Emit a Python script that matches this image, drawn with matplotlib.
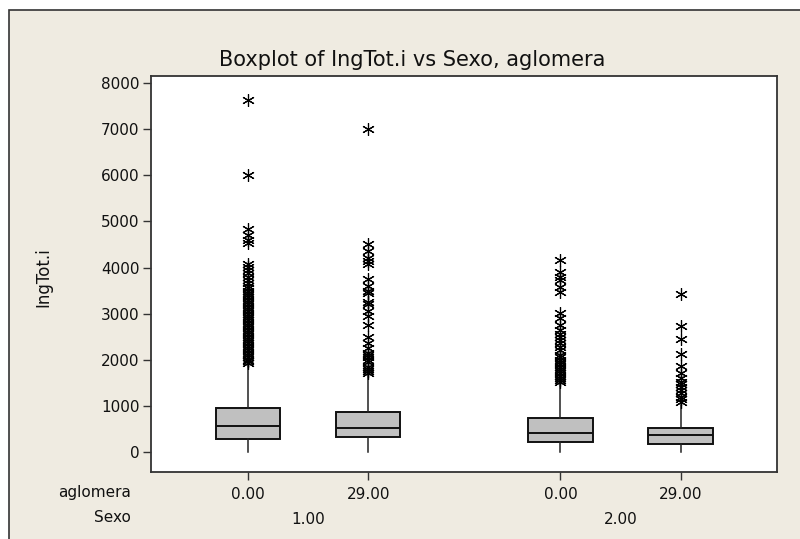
#!/usr/bin/env python3
"""Minitab-style boxplot of IngTot.i by Sexo and aglomera."""

import matplotlib
matplotlib.use("Agg")
import matplotlib.pyplot as plt
from matplotlib.patches import Rectangle
from matplotlib.transforms import blended_transform_factory

# group labels
aglomera_labels = ["0.00", "29.00", "0.00", "29.00"]
sexo_labels = ["1.00", "2.00"]

# box summaries
q1 = [276, 313, 204, 161]
medians = [565, 521, 413, 369]
q3 = [949, 855, 738, 521]
whisk_lo = [0, 0, 0, 0]
whisk_hi = [1890, 1660, 1492, 1010]

# outliers
fliers_1 = [7640, 6000, 4830, 4700, 4600, 4530, 4080, 4020, 3950, 3870, 3800,
            3720, 3660, 3600, 3550, 3500, 3450, 3400, 3350, 3300, 3250, 3200,
            3150, 3100, 3050, 3000, 2950, 2900, 2850, 2800, 2750, 2700, 2650,
            2600, 2550, 2500, 2450, 2400, 2350, 2300, 2250, 2200, 2150, 2100,
            2050, 2000, 1960, 1920]
fliers_2 = [7000, 4520, 4350, 4200, 4150, 4080, 3750, 3600, 3500, 3450, 3250,
            3200, 3050, 2950, 2750, 2500, 2350, 2250, 2150, 2100, 2050, 2000,
            1950, 1850, 1800, 1750, 1700]
fliers_3 = [4163, 3909, 3800, 3729, 3583, 3474, 3005, 2900, 2751, 2642, 2560,
            2498, 2426, 2350, 2280, 2200, 2100, 2050, 1991, 1940, 1900, 1846,
            1800, 1750, 1702, 1650, 1600, 1560, 1520]
fliers_4 = [3418, 2730, 2441, 2115, 1868, 1702, 1600, 1520, 1460, 1412, 1340,
            1268, 1194, 1140, 1086]
fliers = [fliers_1, fliers_2, fliers_3, fliers_4]

positions = [1.0, 2.0, 3.6, 4.6]

BG = "#EFEBE1"
FONT = "DejaVu Sans"
plt.rcParams["font.family"] = FONT

fig = plt.figure(figsize=(8.0, 5.39), dpi=100, facecolor="white")
fig.patches.append(Rectangle((9 / 800, -0.05), 1.2, 529 / 539 + 0.05,
                             transform=fig.transFigure, facecolor=BG,
                             edgecolor="#333333", linewidth=1.2, zorder=-5))

ax = fig.add_axes([0.1884, 0.1249, 0.7825, 0.7341])
ax.set_facecolor("white")

stats = []
for i in range(4):
    stats.append(dict(med=medians[i], q1=q1[i], q3=q3[i],
                      whislo=whisk_lo[i], whishi=whisk_hi[i],
                      fliers=fliers[i]))

ax.bxp(stats, positions=positions, widths=0.535, patch_artist=True,
       showcaps=False,
       boxprops=dict(facecolor="#C0C0C0", edgecolor="#111111", linewidth=1.4),
       medianprops=dict(color="#111111", linewidth=1.4),
       whiskerprops=dict(color="#222222", linewidth=1.1),
       flierprops=dict(marker=(6, 2, 0), markeredgecolor="black",
                       markerfacecolor="black", markersize=9,
                       markeredgewidth=0.85, linestyle="none"))

ax.set_xlim(0.19, 5.4)
ax.set_ylim(-434, 8159)
ax.set_yticks(range(0, 8001, 1000))
ax.set_xticks(positions)
ax.set_xticklabels(aglomera_labels)
for s in ax.spines.values():
    s.set_color("#333333")
    s.set_linewidth(1.3)
ax.tick_params(axis="both", direction="out", length=6, width=1.0,
               color="#333333", labelsize=11, labelcolor="#111111")
ax.tick_params(axis="y", pad=2)
ax.tick_params(axis="x", pad=5)

# second row of category labels
trans = blended_transform_factory(ax.transData, ax.transAxes)
sexo_pos = [(positions[0] + positions[1]) / 2, (positions[2] + positions[3]) / 2]
for x, lab in zip(sexo_pos, sexo_labels):
    ax.text(x, -0.121, lab, transform=trans, ha="center", va="center",
            fontsize=11, color="#111111")

fig.text(131 / 800, 1 - 493 / 539, "aglomera", ha="right", va="center",
         fontsize=11, color="#111111")
fig.text(131 / 800, 1 - 517 / 539, "Sexo", ha="right", va="center",
         fontsize=11, color="#111111")

fig.text(412 / 800, 1 - 60 / 539, "Boxplot of IngTot.i vs Sexo, aglomera",
         ha="center", va="center", fontsize=15, color="#111111")
fig.text(43 / 800, 1 - 277 / 539, "IngTot.i", rotation=90, ha="center",
         va="center", fontsize=12, color="#111111")

fig.savefig("out.png", dpi=100, facecolor="white")
